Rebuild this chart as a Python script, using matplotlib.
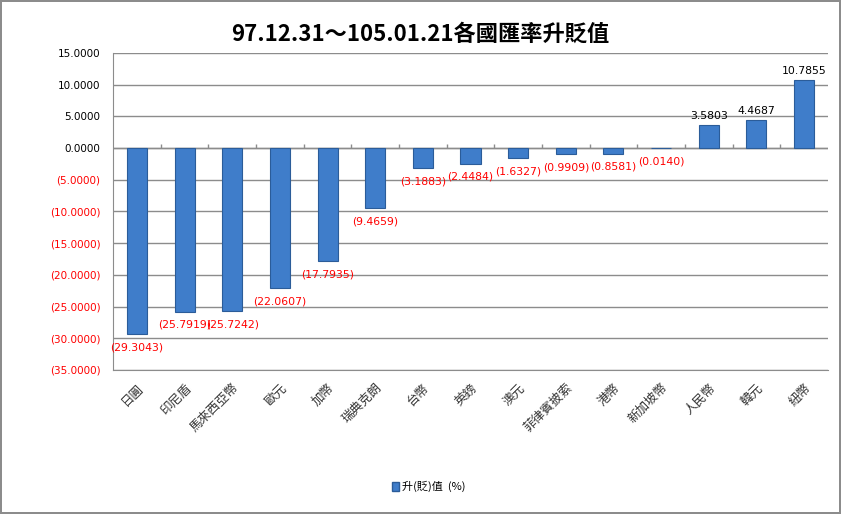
import numpy as np
import matplotlib.pyplot as plt
from matplotlib.patches import Patch
from matplotlib.ticker import FuncFormatter

plt.rcParams['font.family'] = ['Noto Sans CJK TC', 'DejaVu Sans']

# 各國匯率升貶值 (%)
currencies = ['日圓', '印尼盾', '馬來西亞幣', '歐元', '加幣', '瑞典克朗', '台幣', '英鎊',
              '澳元', '菲律賓披索', '港幣', '新加坡幣', '人民幣', '韓元', '紐幣']
change = [-29.3043, -25.7919, -25.7242, -22.0607, -17.7935, -9.4659, -3.1883, -2.4484,
          -1.6327, -0.9909, -0.8581, -0.0140, 3.5803, 4.4687, 10.7855]
yticks = np.arange(-35, 16, 5)

bar_color = '#3F7DCA'
edge_color = '#2B5C99'
grid_color = '#8C8C8C'

fig = plt.figure(figsize=(8.41, 5.14), dpi=100)
fig.patch.set_edgecolor('#8C8C8C')
fig.patch.set_linewidth(1.5)
ax = fig.add_axes([0.1344, 0.2802, 0.8501, 0.6167])

x = np.arange(len(currencies))
bars = ax.bar(x, change, width=0.42, color=bar_color, edgecolor=edge_color, linewidth=0.8, zorder=3)

# 數據標籤
for xi, v in zip(x, change):
    if v < 0:
        ax.annotate(f'({-v:.4f})', (xi, v), xytext=(0, -6), textcoords='offset points',
                    ha='center', va='top', fontsize=7.8, color='red', family='DejaVu Sans')
    else:
        ax.annotate(f'{v:.4f}', (xi, v), xytext=(0, 3), textcoords='offset points',
                    ha='center', va='bottom', fontsize=7.8, color='black', family='DejaVu Sans')

ax.set_xlim(-0.5, len(currencies) - 0.5)
ax.set_ylim(-35, 15)
ax.set_yticks(yticks)
ax.yaxis.set_major_formatter(FuncFormatter(lambda v, p: f'{v:.4f}' if v >= 0 else f'({-v:.4f})'))
for lbl, v in zip(ax.get_yticklabels(), yticks):
    lbl.set_color('red' if v < 0 else 'black')
    lbl.set_fontfamily('DejaVu Sans')
    lbl.set_fontsize(7.5)
ax.tick_params(axis='y', length=0, pad=9)
ax.grid(axis='y', color=grid_color, linewidth=1, zorder=0)

ax.set_xticks(x)
ax.set_xticklabels(currencies, rotation=45, ha='right', rotation_mode='anchor', fontsize=9, color='#333333')
ax.tick_params(axis='x', length=0, pad=8)

# 零軸與分隔刻度
ax.axhline(0, color=grid_color, linewidth=1, zorder=2)
ax.vlines(x[1:] - 0.5, 0, 0.6, color=grid_color, linewidth=1, zorder=2)

for side in ['top', 'right']:
    ax.spines[side].set_visible(False)
ax.spines['left'].set_color(grid_color)
ax.spines['bottom'].set_color(grid_color)

fig.suptitle('97.12.31～105.01.21各國匯率升貶值', y=0.955, fontsize=16, fontweight='bold')

handle = Patch(facecolor=bar_color, edgecolor=edge_color)
fig.legend([handle], ['升(貶)值  (%)'], loc='center', bbox_to_anchor=(0.51, 0.053), frameon=False,
           fontsize=8, handlelength=0.6, handleheight=0.9, handletextpad=0.3)

fig.savefig('out.png', dpi=100)
